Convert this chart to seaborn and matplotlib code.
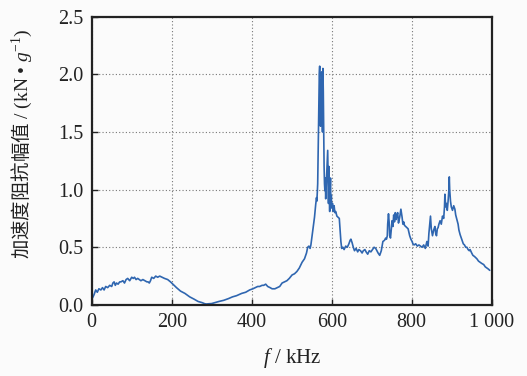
"""
Acceleration impedance magnitude vs frequency
"""
import pandas as pd
import matplotlib
matplotlib.use("Agg")
import matplotlib.pyplot as plt
import seaborn as sns

# frequency (kHz) and impedance magnitude (kN/g)
# (rows of ten, aligned between the two lists)
freq = [2, 6, 10, 14, 18, 23, 27, 31, 35, 40,
        45, 50, 53, 56, 59, 62, 66, 70, 73, 78,
        82, 86, 90, 95, 100, 104, 107, 111, 115, 119,
        123, 128, 133, 138, 141, 144, 147, 150, 155, 160,
        165, 170, 176, 182, 190, 197, 203, 212, 222, 233,
        245, 256, 266, 276, 283, 287, 292, 300, 308, 318,
        330, 342, 352, 362, 375, 385, 395, 403, 409, 415,
        420, 426, 430, 435, 440, 446, 451, 458, 464, 470,
        476, 482, 488, 494, 501, 507, 513, 519, 526, 532,
        537, 540, 543, 546, 548, 551, 554, 557, 560, 562,
        563, 565, 566, 567, 568, 569, 570, 571, 572, 573,
        574, 575, 576, 577, 578, 579, 580, 581, 582, 583,
        584, 585, 586, 588, 590, 591, 592, 593, 594, 595,
        596, 597, 598, 599, 600, 602, 604, 606, 608, 610,
        613, 616, 619, 621, 623, 625, 628, 631, 635, 639,
        643, 646, 648, 651, 654, 657, 661, 665, 668, 672,
        676, 679, 683, 686, 690, 694, 698, 702, 706, 710,
        713, 716, 720, 724, 728, 732, 735, 737, 739, 740,
        742, 744, 745, 747, 749, 751, 753, 755, 757, 759,
        761, 763, 765, 767, 770, 773, 776, 778, 780, 782,
        785, 788, 791, 795, 798, 801, 803, 806, 810, 814,
        818, 822, 826, 830, 834, 838, 841, 843, 845, 847,
        849, 852, 855, 858, 860, 862, 864, 866, 868, 871,
        874, 877, 880, 882, 883, 885, 887, 889, 891, 893,
        894, 895, 897, 899, 902, 905, 908, 910, 913, 916,
        918, 921, 924, 927, 929, 932, 935, 938, 941, 944,
        946, 950, 953, 957, 960, 963, 967, 971, 975, 980,
        984, 988, 992, 995]
impedance = [0.06, 0.09, 0.13, 0.11, 0.14, 0.13, 0.15, 0.13, 0.16, 0.15,
             0.17, 0.16, 0.19, 0.2, 0.17, 0.19, 0.18, 0.2, 0.2, 0.21,
             0.19, 0.22, 0.23, 0.21, 0.24, 0.23, 0.24, 0.22, 0.23, 0.22,
             0.21, 0.22, 0.21, 0.2, 0.2, 0.19, 0.21, 0.24, 0.23, 0.25,
             0.24, 0.25, 0.24, 0.23, 0.22, 0.2, 0.18, 0.15, 0.12, 0.1,
             0.07, 0.05, 0.03, 0.02, 0.01, 0.008, 0.01, 0.012, 0.02, 0.03,
             0.04, 0.055, 0.07, 0.08, 0.1, 0.11, 0.13, 0.14, 0.15, 0.16,
             0.16, 0.17, 0.17, 0.18, 0.16, 0.15, 0.14, 0.14, 0.15, 0.16,
             0.19, 0.2, 0.21, 0.23, 0.26, 0.27, 0.29, 0.32, 0.37, 0.4,
             0.45, 0.5, 0.51, 0.49, 0.52, 0.6, 0.68, 0.76, 0.87, 0.93,
             0.9, 1.05, 1.3, 1.6, 1.85, 2.0, 2.07, 1.7, 1.55, 1.95,
             1.6, 2.02, 1.75, 1.5, 2.05, 1.85, 1.55, 1.2, 1.05, 0.99,
             1.1, 0.92, 1.0, 1.15, 1.34, 1.1, 0.88, 1.2, 0.95, 0.81,
             1.0, 1.1, 0.85, 0.95, 0.84, 0.88, 0.81, 0.86, 0.8, 0.81,
             0.77, 0.76, 0.75, 0.65, 0.55, 0.49, 0.5, 0.48, 0.51, 0.5,
             0.53, 0.56, 0.57, 0.54, 0.5, 0.47, 0.49, 0.46, 0.48, 0.47,
             0.45, 0.47, 0.48, 0.46, 0.44, 0.47, 0.46, 0.48, 0.5, 0.49,
             0.47, 0.45, 0.43, 0.47, 0.55, 0.56, 0.58, 0.57, 0.6, 0.7,
             0.79, 0.7, 0.6, 0.58, 0.66, 0.73, 0.68, 0.78, 0.72, 0.8,
             0.74, 0.78, 0.8, 0.71, 0.76, 0.83, 0.76, 0.7, 0.72, 0.69,
             0.68, 0.67, 0.66, 0.6, 0.57, 0.55, 0.53, 0.52, 0.53, 0.51,
             0.52, 0.51, 0.5, 0.52, 0.49, 0.55, 0.51, 0.62, 0.7, 0.77,
             0.66, 0.6, 0.65, 0.68, 0.62, 0.6, 0.66, 0.67, 0.7, 0.73,
             0.7, 0.77, 0.75, 0.85, 0.96, 0.85, 0.88, 0.82, 0.9, 1.0,
             1.11, 1.0, 0.9, 0.85, 0.82, 0.86, 0.83, 0.78, 0.74, 0.7,
             0.65, 0.61, 0.58, 0.55, 0.53, 0.52, 0.5, 0.5, 0.48, 0.47,
             0.48, 0.45, 0.43, 0.42, 0.41, 0.4, 0.38, 0.37, 0.36, 0.35,
             0.33, 0.32, 0.31, 0.3]

xticks = [0, 200, 400, 600, 800, 1000]
xtick_labels = ["0", "200", "400", "600", "800", "1 000"]
yticks = [0.0, 0.5, 1.0, 1.5, 2.0, 2.5]

df = pd.DataFrame({"f": freq, "z": impedance})

sns.set_style("white")
plt.rcParams["font.family"] = ["Liberation Serif", "Noto Sans CJK SC"]
plt.rcParams["mathtext.fontset"] = "custom"
plt.rcParams["mathtext.rm"] = "Liberation Serif"
plt.rcParams["mathtext.it"] = "Liberation Serif:italic"

ink = "#222222"
fig = plt.figure(figsize=(5.27, 3.76), dpi=100, facecolor="#fbfbfb")
ax = fig.add_axes([0.174, 0.189, 0.759, 0.767])
ax.set_facecolor("#fbfbfb")

sns.lineplot(data=df, x="f", y="z", ax=ax, color="#2f66b0", linewidth=1.2)

ax.set_xlim(0, 1000)
ax.set_ylim(0, 2.5)
ax.set_xticks(xticks)
ax.set_xticklabels(xtick_labels)
ax.set_yticks(yticks)
ax.set_yticklabels([f"{v:.1f}" for v in yticks])
ax.tick_params(direction="in", length=4, width=1, labelsize=14.5, colors=ink,
               bottom=True, left=True, top=False, right=False, pad=6)
ax.grid(True, linestyle=(0, (1, 2)), color="#777777", linewidth=0.8)

for side in ["top", "bottom", "left", "right"]:
    ax.spines[side].set_color(ink)
    ax.spines[side].set_linewidth(1.6)

ax.set_xlabel("$f$ / kHz", fontsize=15, color=ink, labelpad=10)
# the CJK part is the text's own font, the latin part goes through mathtext
ax.set_ylabel("加速度阻抗幅值" + r"$\mathrm{\ /\ (kN}\ •\ g^{-1}\mathrm{)}$",
              fontsize=14, color=ink, family="Noto Sans CJK SC")
ax.yaxis.set_label_coords(-0.143, 0.558)

fig.savefig("out.png", dpi=100, facecolor=fig.get_facecolor())
